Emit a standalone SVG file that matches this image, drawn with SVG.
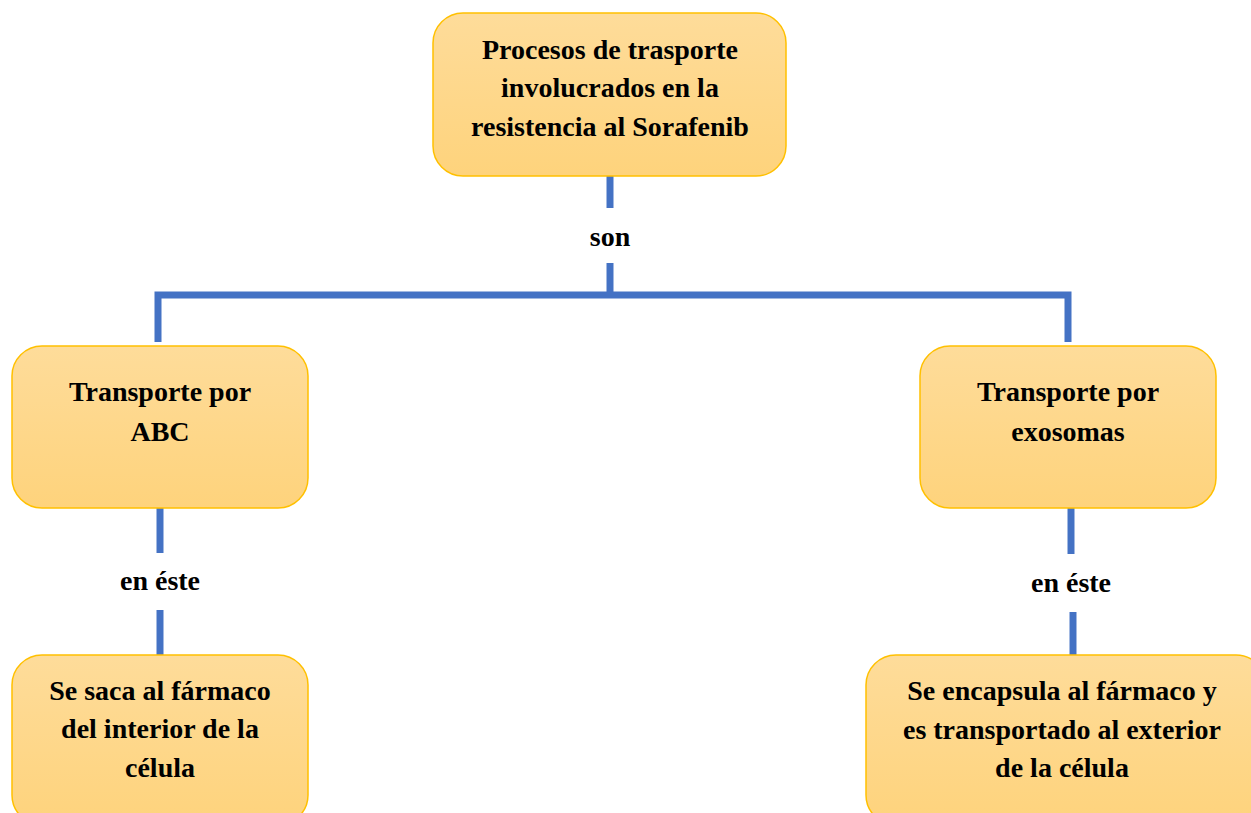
<svg xmlns="http://www.w3.org/2000/svg" width="1251" height="813" viewBox="0 0 1251 813">
  <defs>
    <linearGradient id="boxFill" x1="0" y1="0" x2="0" y2="1">
      <stop offset="0" stop-color="#FEDC9A"/>
      <stop offset="1" stop-color="#FED37C"/>
    </linearGradient>
    <style>
      .box { fill: url(#boxFill); stroke: #FFC000; stroke-width: 1.5; }
      .lbl { font-family: "Liberation Serif", "Times New Roman", serif; font-weight: bold; font-size: 28px; fill: #000; text-anchor: middle; }
      .link { fill: none; stroke: #4472C4; stroke-width: 7; stroke-linecap: butt; stroke-linejoin: miter; }
    </style>
  </defs>
  <rect width="1251" height="813" fill="#FFFFFF"/>

  <g id="connectors">
    <!-- root stem, split around "son" -->
    <line class="link" x1="610" y1="176" x2="610" y2="208"/>
    <line class="link" x1="610" y1="263" x2="610" y2="295"/>
    <!-- horizontal bar with drops to both branches -->
    <polyline class="link" points="158,342 158,295 1068,295 1068,342"/>
    <!-- left branch stem around "en éste" -->
    <line class="link" x1="160" y1="508" x2="160" y2="553"/>
    <line class="link" x1="160" y1="610" x2="160" y2="655"/>
    <!-- right branch stem around "en éste" -->
    <line class="link" x1="1071" y1="508" x2="1071" y2="554"/>
    <line class="link" x1="1073" y1="612" x2="1073" y2="655"/>
    <text class="lbl" x="610" y="246">son</text>
    <text class="lbl" x="160" y="590">en éste</text>
    <text class="lbl" x="1071" y="592">en éste</text>
  </g>

  <g id="root">
    <rect class="box" x="433" y="13" width="353" height="163" rx="30"/>
    <text class="lbl" x="610" y="59">Procesos de trasporte</text>
    <text class="lbl" x="610" y="97">involucrados en la</text>
    <text class="lbl" x="610" y="136">resistencia al Sorafenib</text>
  </g>

  <g id="abc">
    <rect class="box" x="12" y="346" width="296" height="162" rx="30"/>
    <text class="lbl" x="160" y="401">Transporte por</text>
    <text class="lbl" x="160" y="441">ABC</text>
  </g>

  <g id="exosomas">
    <rect class="box" x="920" y="346" width="296" height="162" rx="30"/>
    <text class="lbl" x="1068" y="401">Transporte por</text>
    <text class="lbl" x="1068" y="441">exosomas</text>
  </g>

  <g id="abc-detail">
    <rect class="box" x="12" y="655" width="296" height="170" rx="30"/>
    <text class="lbl" x="160" y="700">Se saca al fármaco</text>
    <text class="lbl" x="160" y="738">del interior de la</text>
    <text class="lbl" x="160" y="777">célula</text>
  </g>

  <g id="exosomas-detail">
    <rect class="box" x="866" y="655" width="400" height="170" rx="30"/>
    <text class="lbl" x="1062" y="700">Se encapsula al fármaco y</text>
    <text class="lbl" x="1062" y="739">es transportado al exterior</text>
    <text class="lbl" x="1062" y="777">de la célula</text>
  </g>
</svg>
